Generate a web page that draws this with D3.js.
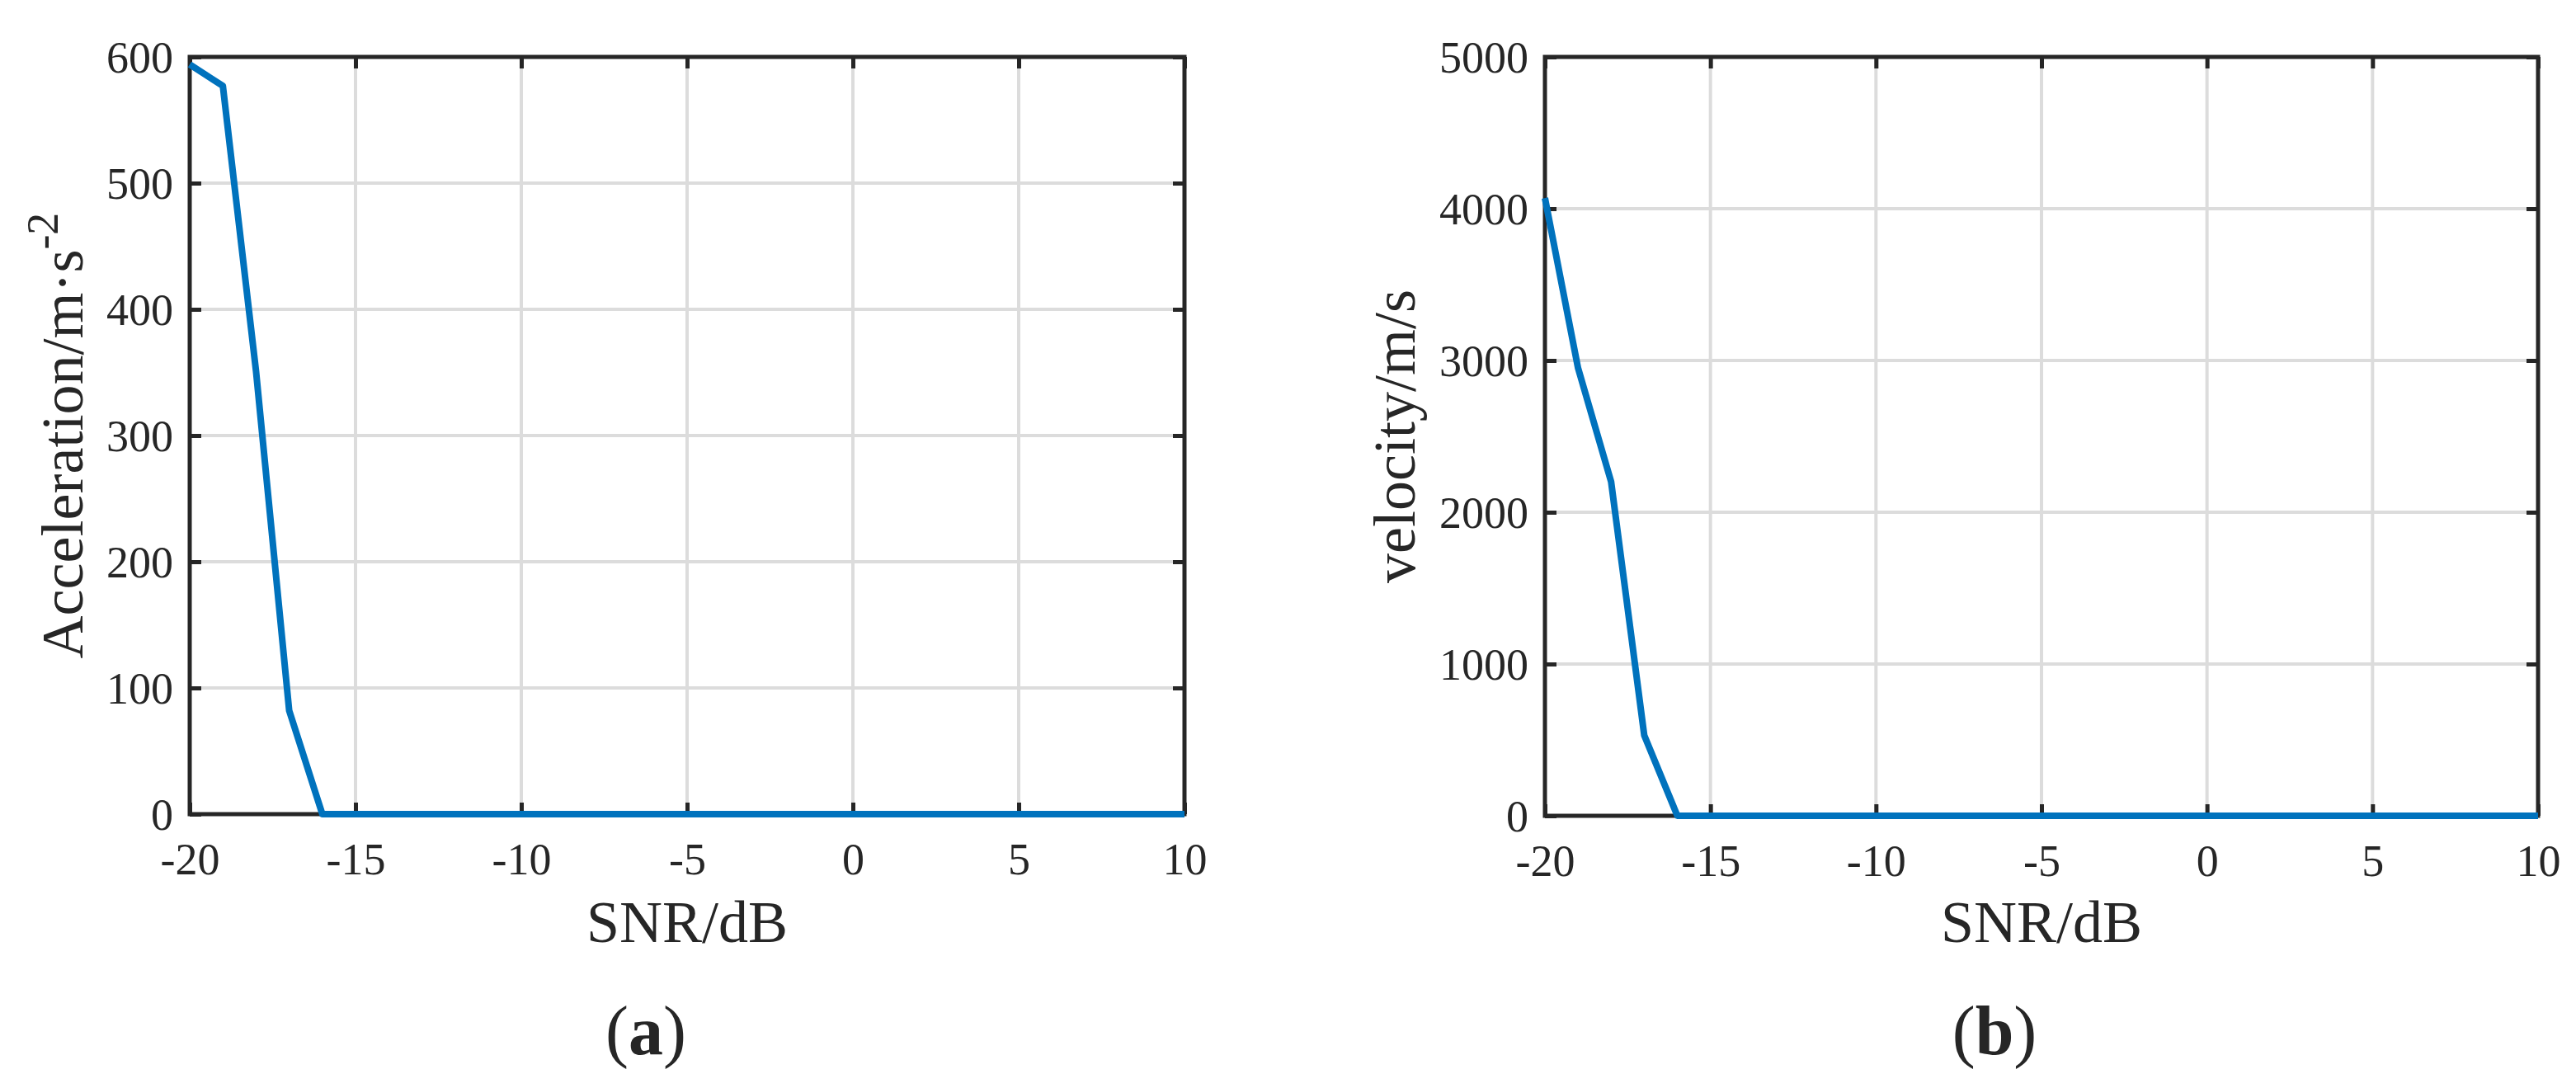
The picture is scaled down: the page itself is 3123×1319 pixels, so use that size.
<!DOCTYPE html>
<html>
<head>
<meta charset="utf-8">
<script src="https://cdn.jsdelivr.net/npm/d3@7"></script>
<style>
  body { margin: 0; background: #fff; }
  text { font-family: "Liberation Serif", "Times New Roman", serif; fill: #262626; }
</style>
</head>
<body>
<div id="canvas"></div>
<script>
// SNR values (dB) on the x axis
const snr = [-20, -19, -18, -17, -16, -15, -14, -13, -12, -11, -10, -9, -8, -7, -6, -5, -4, -3, -2, -1, 0, 1, 2, 3, 4, 5, 6, 7, 8, 9, 10];
// panel (a): acceleration error
const accel = [594, 577, 351, 82, 0, 0, 0, 0, 0, 0, 0, 0, 0, 0, 0, 0, 0, 0, 0, 0, 0, 0, 0, 0, 0, 0, 0, 0, 0, 0, 0];
// panel (b): velocity error
const velocity = [4070, 2950, 2200, 530, 0, 0, 0, 0, 0, 0, 0, 0, 0, 0, 0, 0, 0, 0, 0, 0, 0, 0, 0, 0, 0, 0, 0, 0, 0, 0, 0];

const xTicks = [-20, -15, -10, -5, 0, 5, 10];
const accelTicks = [0, 100, 200, 300, 400, 500, 600];
const velTicks = [0, 1000, 2000, 3000, 4000, 5000];

const width = 3123;
const height = 1319;

// plain hyphen for negatives, like the matlab figure
const fmt = (d) => String(d);

const svg = d3.select("#canvas").append("svg")
  .attr("width", width)
  .attr("height", height);

const drawPanel = (opt) => {
  const iwidth = opt.right - opt.left;
  const iheight = opt.bottom - opt.top;
  const g = svg.append("g").attr("transform", `translate(${opt.left},${opt.top})`);

  const x = d3.scaleLinear().domain([-20, 10]).range([0, iwidth]);
  const y = d3.scaleLinear().domain(opt.yDomain).range([iheight, 0]);

  // grid
  const grid = g.append("g");
  grid.selectAll("line.v").data(xTicks).enter().append("line")
    .attr("x1", (d) => x(d)).attr("x2", (d) => x(d))
    .attr("y1", 0).attr("y2", iheight);
  grid.selectAll("line.h").data(opt.yTicks).enter().append("line")
    .attr("x1", 0).attr("x2", iwidth)
    .attr("y1", (d) => y(d)).attr("y2", (d) => y(d));
  grid.selectAll("line").attr("stroke", "#dcdcdc").attr("stroke-width", 4);

  // axes with inward ticks on all four sides
  const xb = g.append("g").attr("transform", `translate(0,${iheight})`)
    .call(d3.axisBottom(x).tickValues(xTicks).tickSizeInner(-14).tickSizeOuter(0).tickPadding(35).tickFormat(fmt));
  g.append("g").call(d3.axisTop(x).tickValues(xTicks).tickSizeInner(-14).tickSizeOuter(0).tickFormat(""));
  const yl = g.append("g")
    .call(d3.axisLeft(y).tickValues(opt.yTicks).tickSizeInner(-14).tickSizeOuter(0).tickPadding(20).tickFormat(fmt));
  g.append("g").attr("transform", `translate(${iwidth},0)`)
    .call(d3.axisRight(y).tickValues(opt.yTicks).tickSizeInner(-14).tickSizeOuter(0).tickFormat(""));

  g.selectAll(".domain").remove();
  g.selectAll(".tick line").attr("stroke", "#262626").attr("stroke-width", 5);
  g.selectAll(".tick text")
    .style("font-family", '"Liberation Serif", "Times New Roman", serif')
    .style("font-size", "54px")
    .attr("fill", "#262626");
  xb.selectAll(".tick text").attr("dy", "0.71em");
  yl.selectAll(".tick text").attr("dy", "0.34em");

  // box
  g.append("rect")
    .attr("x", 0).attr("y", 0)
    .attr("width", iwidth).attr("height", iheight)
    .attr("fill", "none")
    .attr("stroke", "#262626")
    .attr("stroke-width", 5);

  // data line
  const line = d3.line().x((d, i) => x(snr[i])).y((d) => y(d));
  g.append("path")
    .datum(opt.values)
    .attr("d", line)
    .attr("fill", "none")
    .attr("stroke", "#0072BD")
    .attr("stroke-width", 8)
    .attr("stroke-linejoin", "round");

  // x label
  svg.append("text")
    .attr("x", opt.left + iwidth / 2)
    .attr("y", 1142)
    .attr("text-anchor", "middle")
    .style("font-size", "72px")
    .text("SNR/dB");

  // y label
  const yt = svg.append("text")
    .attr("transform", `translate(${opt.yLabelX},${opt.top + iheight / 2}) rotate(-90)`)
    .attr("text-anchor", "middle")
    .style("font-size", "72px")
    .text(opt.yLabel);
  if (opt.ySup) {
    yt.append("tspan").attr("dy", -30).style("font-size", "54px").text(opt.ySup);
  }

  // caption
  const cap = svg.append("text")
    .attr("x", opt.capX)
    .attr("y", 1278)
    .attr("text-anchor", "middle")
    .style("font-size", "84px");
  cap.append("tspan").text("(");
  cap.append("tspan").style("font-weight", "bold").text(opt.caption);
  cap.append("tspan").text(")");
};

drawPanel({
  left: 230, right: 1436, top: 69, bottom: 987,
  yDomain: [0, 600], yTicks: accelTicks, values: accel,
  yLabel: "Acceleration/m\u00b7s", ySup: "-2", yLabelX: 100,
  caption: "a", capX: 783
});

drawPanel({
  left: 1873, right: 3077, top: 69, bottom: 989,
  yDomain: [0, 5000], yTicks: velTicks, values: velocity,
  yLabel: "velocity/m/s", ySup: null, yLabelX: 1715,
  caption: "b", capX: 2418
});
</script>
</body>
</html>
